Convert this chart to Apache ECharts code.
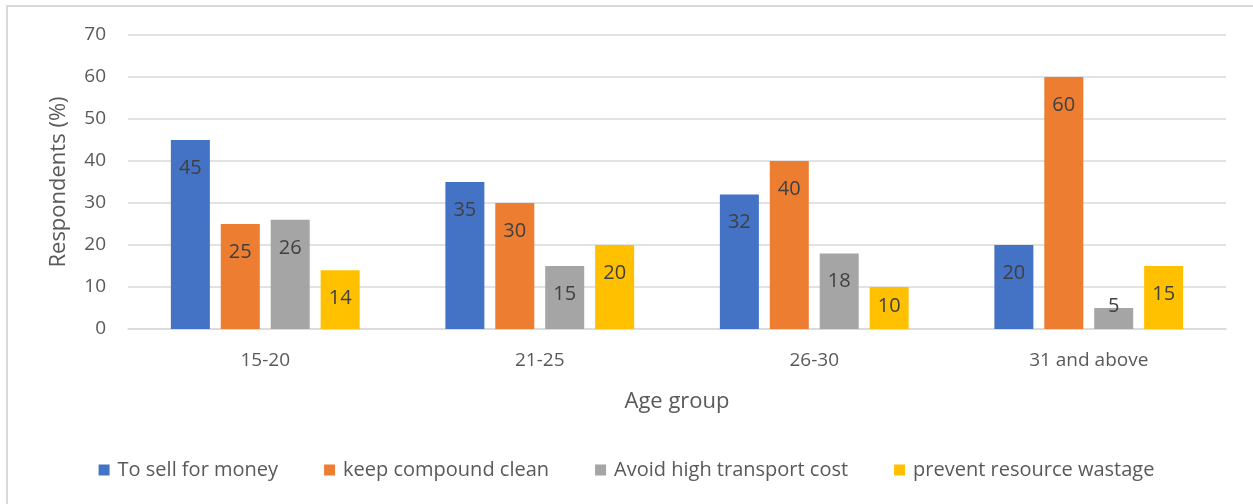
<!DOCTYPE html>
<html>
<head>
<meta charset="utf-8">
<script src="https://cdn.jsdelivr.net/npm/echarts@6/dist/echarts.min.js"></script>
<style>
  html, body { margin: 0; padding: 0; background: #fff; }
  #chart { width: 1253px; height: 504px; }
</style>
</head>
<body>
<div id="chart"></div>
<script>
// Age groups on the x axis
const categories = ['15-20', '21-25', '26-30', '31 and above'];

// Share of respondents (%) per reason
const sellForMoney = [45, 35, 32, 20];
const keepCompoundClean = [25, 30, 40, 60];
const avoidTransportCost = [26, 15, 18, 5];
const preventWastage = [14, 20, 10, 15];

const seriesNames = ['To sell for money', 'keep compound clean', 'Avoid high transport cost', 'prevent resource wastage'];
const seriesValues = [sellForMoney, keepCompoundClean, avoidTransportCost, preventWastage];
const colors = ['#4472C4', '#ED7D31', '#A5A5A5', '#FFC000'];

const FONT = '"Open Sans", sans-serif';

// Short bars get their label anchored to the bottom so it stays in the bar
function toData(values) {
  return values.map(v => v < 13
    ? { value: v, label: { position: 'insideBottom', distance: 13 } }
    : v);
}

const chart = echarts.init(document.getElementById('chart'), null, { renderer: 'canvas' });

chart.setOption({
  animation: false,
  backgroundColor: '#fff',
  color: colors,
  graphic: [{
    type: 'rect',
    shape: { x: 7, y: 6, width: 1260, height: 520 },
    style: { fill: 'none', stroke: '#d9d9d9', lineWidth: 2 },
    silent: true
  }],
  grid: { left: 128, right: 27, top: 35, bottom: 175 },
  legend: {
    bottom: 19,
    left: 'center',
    itemWidth: 11,
    itemHeight: 11,
    itemGap: 46,
    icon: 'rect',
    textStyle: { color: '#595959', fontSize: 20, fontFamily: FONT, padding: [0, 0, 0, 3] },
    data: seriesNames
  },
  xAxis: {
    type: 'category',
    data: categories,
    name: 'Age group',
    nameLocation: 'middle',
    nameGap: 62,
    nameTextStyle: { color: '#595959', fontSize: 22, fontFamily: FONT },
    axisLine: { lineStyle: { color: '#d9d9d9', width: 1.5 } },
    axisTick: { show: false },
    axisLabel: { color: '#595959', fontSize: 19, fontFamily: FONT, margin: 22 }
  },
  yAxis: {
    type: 'value',
    min: 0,
    max: 70,
    interval: 10,
    name: 'Respondents (%)',
    nameLocation: 'middle',
    nameGap: 58,
    nameTextStyle: { color: '#595959', fontSize: 22, fontFamily: FONT },
    axisLine: { show: false },
    axisTick: { show: false },
    axisLabel: { color: '#595959', fontSize: 19, fontFamily: FONT, margin: 22 },
    splitLine: { lineStyle: { color: '#d9d9d9', width: 1.5 } }
  },
  series: seriesNames.map((name, i) => ({
    name,
    type: 'bar',
    data: toData(seriesValues[i]),
    barWidth: 39,
    barGap: '28%',
    label: {
      show: true,
      position: 'insideTop',
      distance: 18,
      color: '#404040',
      fontSize: 20,
      fontFamily: FONT
    }
  }))
});
</script>
</body>
</html>
